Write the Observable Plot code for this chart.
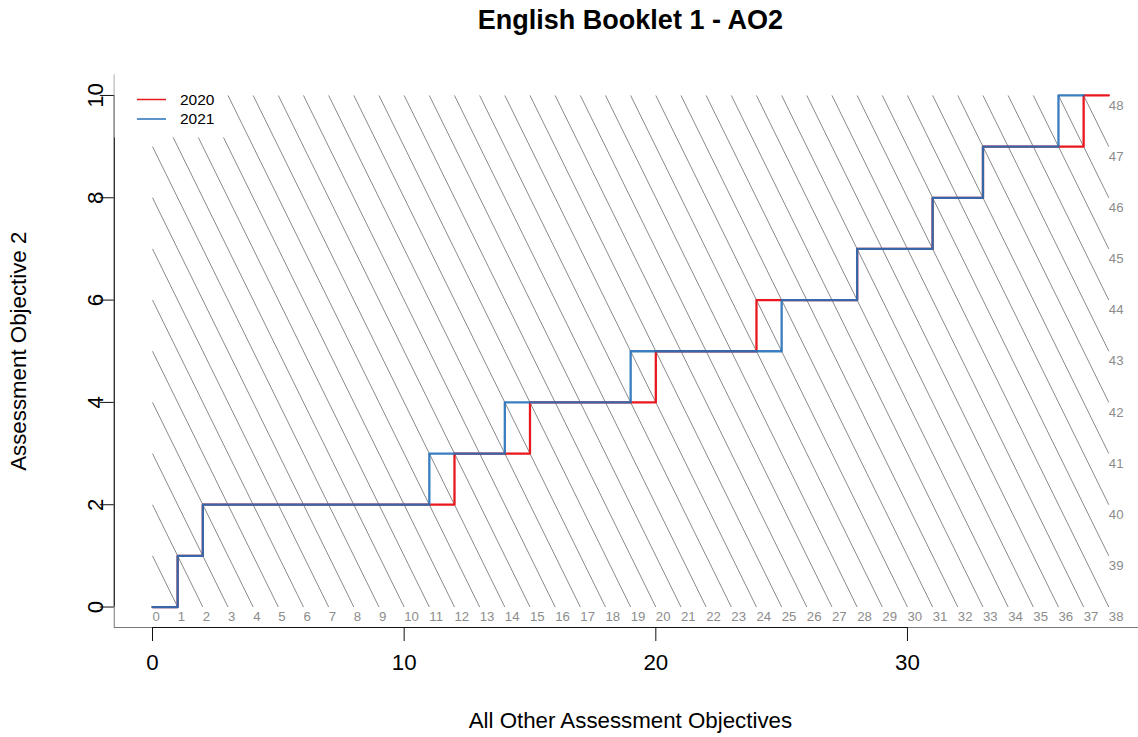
<!DOCTYPE html>
<html><head><meta charset="utf-8">
<script src="https://cdn.jsdelivr.net/npm/d3@7"></script>
<script src="https://cdn.jsdelivr.net/npm/@observablehq/plot@0.6"></script>
<style>body{margin:0;background:#fff}#chart svg{display:block}</style>
</head><body><div id="chart"></div>
<script>
const title = "English Booklet 1 - AO2";
const xLabel = "All Other Assessment Objectives";
const yLabel = "Assessment Objective 2";
const xTicks = [0, 10, 20, 30];
const yTicks = [0, 2, 4, 6, 8, 10];
const otherMax = 38;
const ao2Max = 10;
const totals = [0,1,2,3,4,5,6,7,8,9,10,11,12,13,14,15,16,17,18,19,20,21,22,23,24,25,26,27,28,29,30,31,32,33,34,35,36,37,38,39,40,41,42,43,44,45,46,47,48];
const series = ["2020", "2021"];
const colors = ["#E8191E", "#2470B7"];
const x2020 = [0,1,2,3,4,5,6,7,8,9,10,11,12,13,14,15,16,17,18,19,20,21,22,23,24,25,26,27,28,29,30,31,32,33,34,35,36,37,38];
const y2020 = [0,1,2,2,2,2,2,2,2,2,2,2,3,3,3,4,4,4,4,4,5,5,5,5,6,6,6,6,7,7,7,8,8,9,9,9,9,10,10];
const x2021 = [0,1,2,3,4,5,6,7,8,9,10,11,12,13,14,15,16,17,18,19,20,21,22,23,24,25,26,27,28,29,30,31,32,33,34,35,36,37];
const y2021 = [0,1,2,2,2,2,2,2,2,2,2,3,3,3,4,4,4,4,4,5,5,5,5,5,5,6,6,6,7,7,7,8,8,9,9,9,10,10];

const xDomain = [-1.52, 39.18];
const yDomain = [-0.4, 10.4];

const diag = totals.filter(k => k > 0).map(k => ({
  k,
  x1: Math.max(0, k - ao2Max), y1: Math.min(k, ao2Max),
  x2: Math.min(k, otherMax), y2: k - Math.min(k, otherMax)
}));
const diagLabels = totals.map(k => ({k, x: Math.min(k, otherMax), y: k - Math.min(k, otherMax)}));
const s2020 = x2020.map((x, i) => ({x, y: y2020[i]}));
const s2021 = x2021.map((x, i) => ({x, y: y2021[i]}));

const font = "'Liberation Sans', Arial, Helvetica, sans-serif";
const plot = Plot.plot({
  width: 1138, height: 737,
  marginLeft: 113.75, marginRight: 0, marginTop: 74.5, marginBottom: 110,
  x: {domain: xDomain},
  y: {domain: yDomain},
  style: {fontFamily: font, background: "white", color: "black"},
  marks: [
    Plot.link(diag, {x1: "x1", y1: "y1", x2: "x2", y2: "y2", stroke: "#8a8a8a", strokeWidth: 1}),
    Plot.text(diagLabels, {x: "x", y: "y", text: d => String(d.k), textAnchor: "start", lineAnchor: "middle", dy: 10, fill: "#8c8c8c", fontSize: 13.2}),
    Plot.line(s2020, {x: "x", y: "y", curve: "step-after", stroke: colors[0], strokeWidth: 2.3}),
    Plot.line(s2021, {x: "x", y: "y", curve: "step-after", stroke: colors[1], strokeWidth: 2.3, strokeOpacity: 0.9}),
    Plot.ruleX([xDomain[0]], {stroke: "#777"}),
    Plot.ruleY([yDomain[0]], {stroke: "#777"}),
    Plot.ruleY([yDomain[0]], {x1: xTicks[0], x2: xTicks[xTicks.length - 1], stroke: "#111"}),
    Plot.ruleX([xDomain[0]], {y1: yTicks[0], y2: yTicks[yTicks.length - 1], stroke: "#111"}),
    Plot.axisX({ticks: xTicks, tickSize: 14, tickFormat: () => "", stroke: "#111", label: null}),
    Plot.axisY({ticks: yTicks, tickSize: 14, tickFormat: () => "", stroke: "#111", label: null}),
    Plot.text(xTicks, {x: d => d, frameAnchor: "bottom", lineAnchor: "middle", textAnchor: "middle", dy: 35, text: d => String(d), fontSize: 22.3, fill: "black"}),
    Plot.text(yTicks, {y: d => d, frameAnchor: "left", lineAnchor: "middle", textAnchor: "middle", dx: -18, rotate: -90, text: d => String(d), fontSize: 22.3, fill: "black"}),
    Plot.text([xLabel], {frameAnchor: "bottom", lineAnchor: "middle", textAnchor: "middle", dy: 93, dx: 4, text: d => d, fontSize: 22.3, fill: "black"}),
    Plot.text([yLabel], {frameAnchor: "left", lineAnchor: "middle", textAnchor: "middle", dx: -95, rotate: -90, text: d => d, fontSize: 22.3, fill: "black"}),
    Plot.text([title], {frameAnchor: "top", lineAnchor: "middle", textAnchor: "middle", dy: -54.5, dx: 4, text: d => d, fontSize: 27, fontWeight: "bold", fill: "black"})
  ]
});
document.getElementById("chart").appendChild(plot);

// legend (white background box, like R's legend with bg="white")
const svg = d3.select(plot);
const lg = svg.append("g").attr("font-family", font).attr("text-anchor", "start");
lg.append("rect").attr("x", 114.5).attr("y", 74.5).attr("width", 111).attr("height", 63)
  .attr("fill", "white").attr("stroke", "none");
series.forEach((s, i) => {
  const yy = 99.5 + i * 19.5;
  lg.append("line").attr("x1", 137).attr("x2", 166).attr("y1", yy).attr("y2", yy)
    .attr("stroke", colors[i]).attr("stroke-width", 1.5);
  lg.append("text").attr("x", 180).attr("y", yy).attr("dy", "0.35em")
    .attr("font-size", 15.5).attr("fill", "black").attr("text-anchor", "start").text(s);
});
</script>
</body></html>
